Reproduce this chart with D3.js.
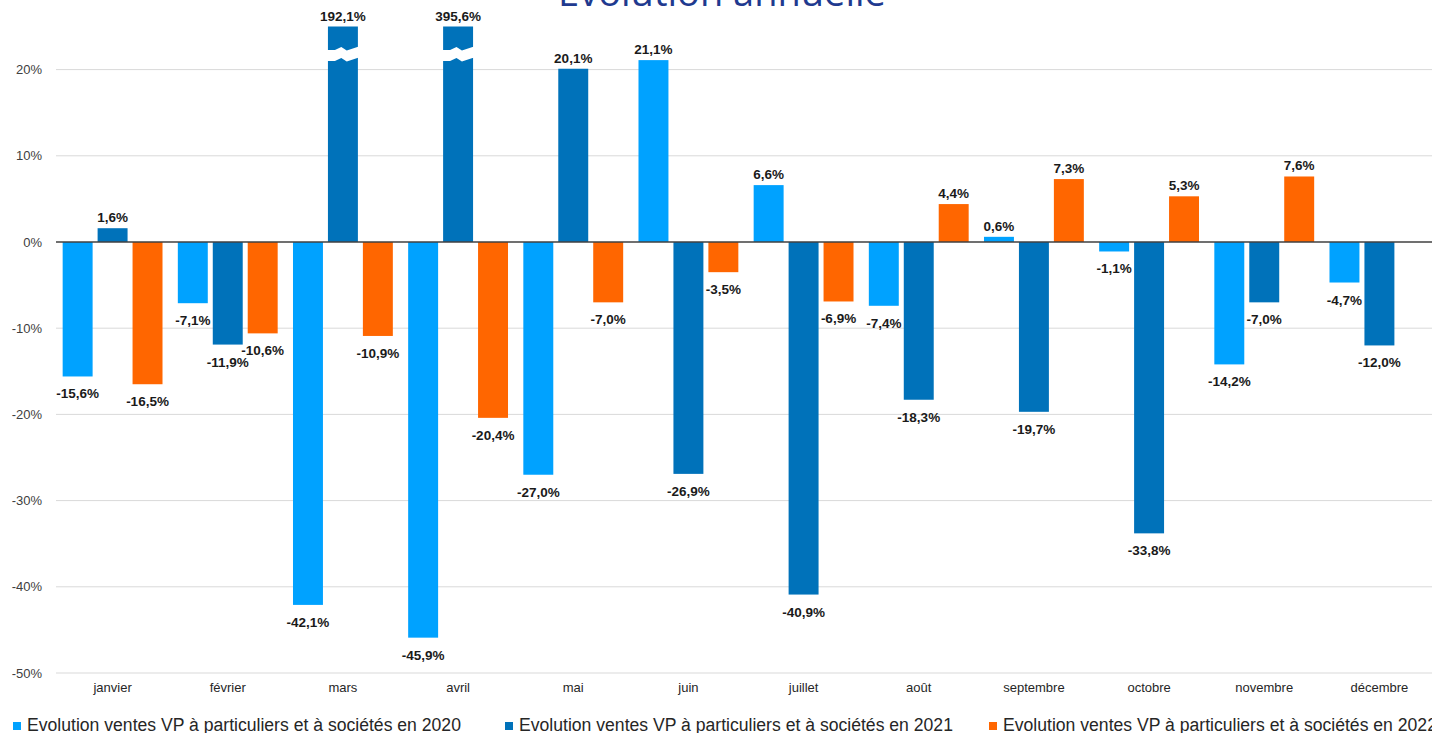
<!DOCTYPE html>
<html><head><meta charset="utf-8">
<script src="https://cdn.jsdelivr.net/npm/d3@7"></script>
<style>body{margin:0;background:#fff;overflow:hidden}svg{display:block}</style>
</head><body>
<svg id="c" width="1432" height="733"></svg>
<script>
const months = ["janvier","février","mars","avril","mai","juin","juillet","août","septembre","octobre","novembre","décembre"];
const seriesNames = ["Evolution ventes VP à particuliers et à sociétés en 2020","Evolution ventes VP à particuliers et à sociétés en 2021","Evolution ventes VP à particuliers et à sociétés en 2022"];
const v2020 = [-15.6,-7.1,-42.1,-45.9,-27.0,21.1,6.6,-7.4,0.6,-1.1,-14.2,-4.7];
const v2021 = [1.6,-11.9,192.1,395.6,20.1,-26.9,-40.9,-18.3,-19.7,-33.8,-7.0,-12.0];
const v2022 = [-16.5,-10.6,-10.9,-20.4,-7.0,-3.5,-6.9,4.4,7.3,5.3,7.6,null];
const yTicks = [-50,-40,-30,-20,-10,0,10,20];
const colors = ["#00A2FF","#0072BA","#FF6600"];
const title = "Evolution annuelle";

const svg = d3.select("#c");
const yMax = 25;
const y = d3.scaleLinear().domain([-50, yMax]).range([673, 26.5]);
const x0 = d3.scaleBand().domain(months).range([55, 1437]).paddingInner(0.133).paddingOuter(0.0665);
const x1 = d3.scaleBand().domain([0,1,2]).range([0, x0.bandwidth()]).paddingInner(1/7);
const fmt = v => d3.format(".1f")(v).replace(".", ",").replace("−","-") + "%";

// title
svg.append("text").attr("x", 722).attr("y", 6).attr("text-anchor","middle")
  .attr("font-family","Open Sans, Liberation Sans, sans-serif").attr("font-size", 38)
  .attr("fill","#1F3A8F").text(title);

// grid
svg.append("g").selectAll("line").data(yTicks.filter(t=>t!==0)).join("line")
  .attr("x1", 56).attr("x2", 1432).attr("y1", d=>y(d)).attr("y2", d=>y(d))
  .attr("stroke","#d9d9d9").attr("stroke-width",1);

// y axis labels
const yAxis = d3.axisLeft(y).tickValues(yTicks).tickSize(0).tickPadding(0).tickFormat(d=>d+"%");
const ga = svg.append("g").attr("transform","translate(42,0)").call(yAxis);
ga.select(".domain").remove();
ga.selectAll("text").attr("font-family","Liberation Sans, Arial, sans-serif").attr("font-size",13).attr("fill","#404040");

// x axis labels
const xAxis = d3.axisBottom(x0).tickSize(0).tickPadding(0);
const gx = svg.append("g").attr("transform","translate(0,683)").call(xAxis);
gx.select(".domain").remove();
gx.selectAll("text").attr("font-family","Liberation Sans, Arial, sans-serif").attr("font-size",13).attr("fill","#262626");

// data
const data = [];
[v2020, v2021, v2022].forEach((arr, s) => arr.forEach((v, i) => { if (v !== null) data.push({m: months[i], s, v}); }));

const bars = svg.append("g");
bars.selectAll("rect").data(data).join("rect")
  .attr("x", d => x0(d.m) + x1(d.s)).attr("width", x1.bandwidth())
  .attr("y", d => y(Math.max(0, Math.min(d.v, yMax))))
  .attr("height", d => Math.abs(y(Math.min(d.v, yMax)) - y(0)))
  .attr("fill", d => colors[d.s]);

// break marks for clipped bars
const broken = data.filter(d => d.v > yMax);
svg.append("g").selectAll("path").data(broken).join("path")
  .attr("d", d => {
    const xl = x0(d.m) + x1(d.s) - 1, w = x1.bandwidth() + 2;
    const top = y(22.4);
    const p = [[xl, top+1],[xl+w*0.25, top+1],[xl+w*0.45, top-2],[xl+w*0.62, top+1.5],[xl+w, top-2.5]];
    const h = 11;
    const bot = p.map(([a,b]) => [a, b + h]).reverse();
    return "M" + p.concat(bot).map(q => q.join(",")).join("L") + "Z";
  })
  .attr("fill","#fff");

// zero line
svg.append("line").attr("x1",56).attr("x2",1432).attr("y1",y(0)).attr("y2",y(0))
  .attr("stroke","#404040").attr("stroke-width",1.5);

// labels
svg.append("g").selectAll("text").data(data).join("text")
  .attr("x", d => x0(d.m) + x1(d.s) + x1.bandwidth()/2)
  .attr("y", d => d.v >= 0 ? y(Math.min(d.v, yMax)) - 6 : y(d.v) + 22)
  .attr("text-anchor","middle")
  .attr("font-family","Liberation Sans, Arial, sans-serif").attr("font-weight","bold").attr("font-size",13.5)
  .attr("fill","#1a1a1a").text(d => fmt(d.v));

// legend
const legX = [13, 505, 989];
const lg = svg.append("g").selectAll("g").data(seriesNames).join("g")
  .attr("transform", (d,i) => `translate(${legX[i]},0)`);
lg.append("rect").attr("x",0).attr("y",722).attr("width",8).attr("height",8).attr("fill",(d,i)=>colors[i]);
lg.append("text").attr("x",14).attr("y",731)
  .attr("font-family","Liberation Sans, Arial, sans-serif").attr("font-size",17.6).attr("fill","#262626").text(d=>d);
</script>
</body></html>
